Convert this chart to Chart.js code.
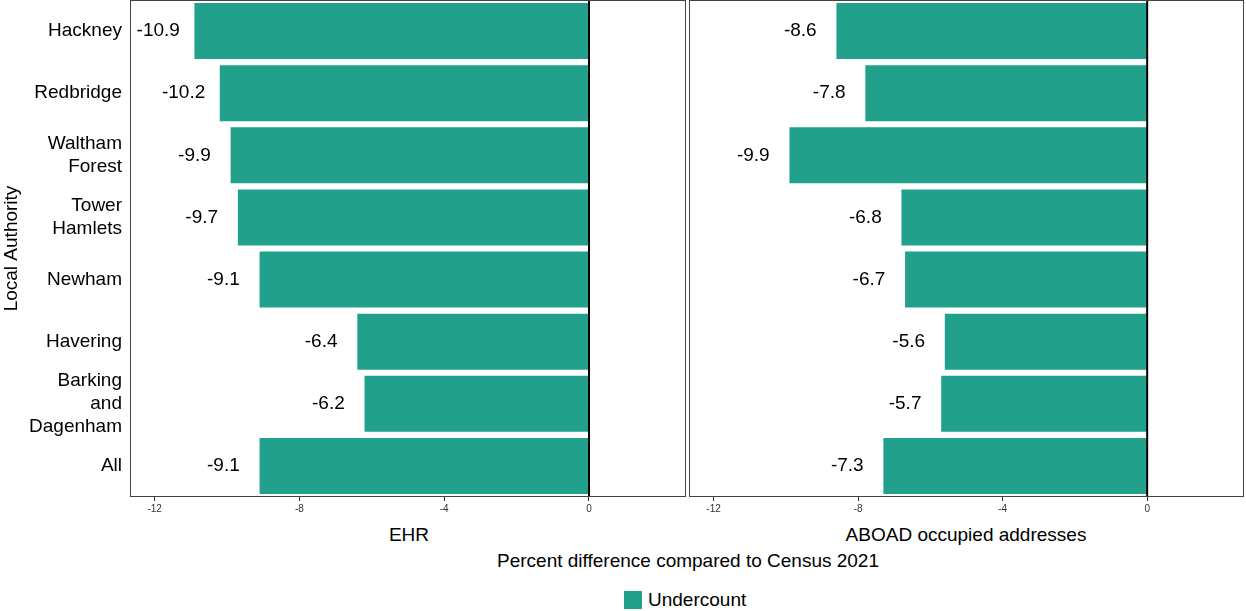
<!DOCTYPE html>
<html><head>
<script src="https://cdn.jsdelivr.net/npm/chart.js@4/dist/chart.umd.min.js"></script>
<style>
body{margin:0;width:1246px;height:611px;background:#fff;font-family:Arial,"Liberation Sans",sans-serif;position:relative;overflow:hidden}
canvas{position:absolute;top:0}
.t{position:absolute;font-size:19px;color:#000;white-space:nowrap;transform:translateX(-50%)}
</style></head><body>
<canvas id="c1" style="left:0"></canvas>
<canvas id="c2" style="left:688px"></canvas>
<div class="t" style="left:409px;top:524px">EHR</div>
<div class="t" style="left:966px;top:524px">ABOAD occupied addresses</div>
<div class="t" style="left:688px;top:550px">Percent difference compared to Census 2021</div>
<div style="position:absolute;left:624px;top:589px;font-size:19px;display:flex;align-items:center">
<span style="display:inline-block;width:18px;height:18px;background:#21a08b;margin-right:6px"></span>Undercount</div>
<script>
const categories = [['Hackney'], ['Redbridge'], ['Waltham', 'Forest'], ['Tower', 'Hamlets'], ['Newham'], ['Havering'], ['Barking', 'and', 'Dagenham'], ['All']];
const ehrValues = [-10.9, -10.2, -9.9, -9.7, -9.1, -6.4, -6.2, -9.1];
const aboadValues = [-8.6, -7.8, -9.9, -6.8, -6.7, -5.6, -5.7, -7.3];
const xTicks = [-12, -8, -4, 0];
const barColor = '#21a08b';

const panelPlugin = {
  id: 'panel',
  afterDatasetsDraw(chart) {
    const { ctx, chartArea: a, scales: { x, y } } = chart;
    ctx.save();
    // zero line
    ctx.strokeStyle = '#000'; ctx.lineWidth = 2;
    ctx.beginPath(); ctx.moveTo(x.getPixelForValue(0), a.top); ctx.lineTo(x.getPixelForValue(0), a.bottom); ctx.stroke();
    // panel border
    ctx.strokeStyle = '#444'; ctx.lineWidth = 1;
    ctx.strokeRect(a.left + 0.5, a.top + 0.5, a.width - 1, a.height - 1);
    // value labels
    ctx.fillStyle = '#000'; ctx.font = '19px Arial, "Liberation Sans"';
    ctx.textAlign = 'center'; ctx.textBaseline = 'middle';
    chart.data.datasets[0].data.forEach((v, i) => {
      ctx.fillText(v.toFixed(1), x.getPixelForValue(v - 1), y.getPixelForValue(i));
    });
    ctx.restore();
  }
};

function makeChart(id, width, values, showY) {
  const cv = document.getElementById(id);
  cv.width = width; cv.height = 520;
  cv.style.width = width + 'px'; cv.style.height = '520px';
  return new Chart(cv, {
    type: 'bar',
    data: { labels: categories, datasets: [{ data: values, backgroundColor: barColor, barPercentage: 0.9, categoryPercentage: 1 }] },
    options: {
      indexAxis: 'y', responsive: false, animation: false, devicePixelRatio: 1,
      layout: { padding: { left: showY ? 0 : 1, right: 2, top: 0 } },
      plugins: { legend: { display: false }, tooltip: { enabled: false } },
      scales: {
        x: {
          min: -12.68, max: 2.68,
          afterBuildTicks: s => { s.ticks = xTicks.map(v => ({ value: v })); },
          afterFit: s => { s.height = 23; s.paddingLeft = 0; s.paddingRight = 0; },
          grid: { drawOnChartArea: false, tickLength: 4, color: '#333' },
          border: { display: false },
          ticks: { color: '#333', font: { size: 10 }, padding: 2 }
        },
        y: {
          display: showY,
          afterFit: s => { if (showY) s.width = 130; s.paddingTop = 0; s.paddingBottom = 0; },
          grid: { display: false, tickLength: 4 },
          border: { display: false },
          title: { display: true, text: 'Local Authority', color: '#000', font: { size: 19 }, padding: 0 },
          ticks: { color: '#000', autoSkip: false, font: { size: 19, lineHeight: 1.2 }, padding: 4 }
        }
      }
    },
    plugins: [panelPlugin]
  });
}
makeChart('c1', 688, ehrValues, true);
makeChart('c2', 558, aboadValues, false);
</script>
</body></html>
